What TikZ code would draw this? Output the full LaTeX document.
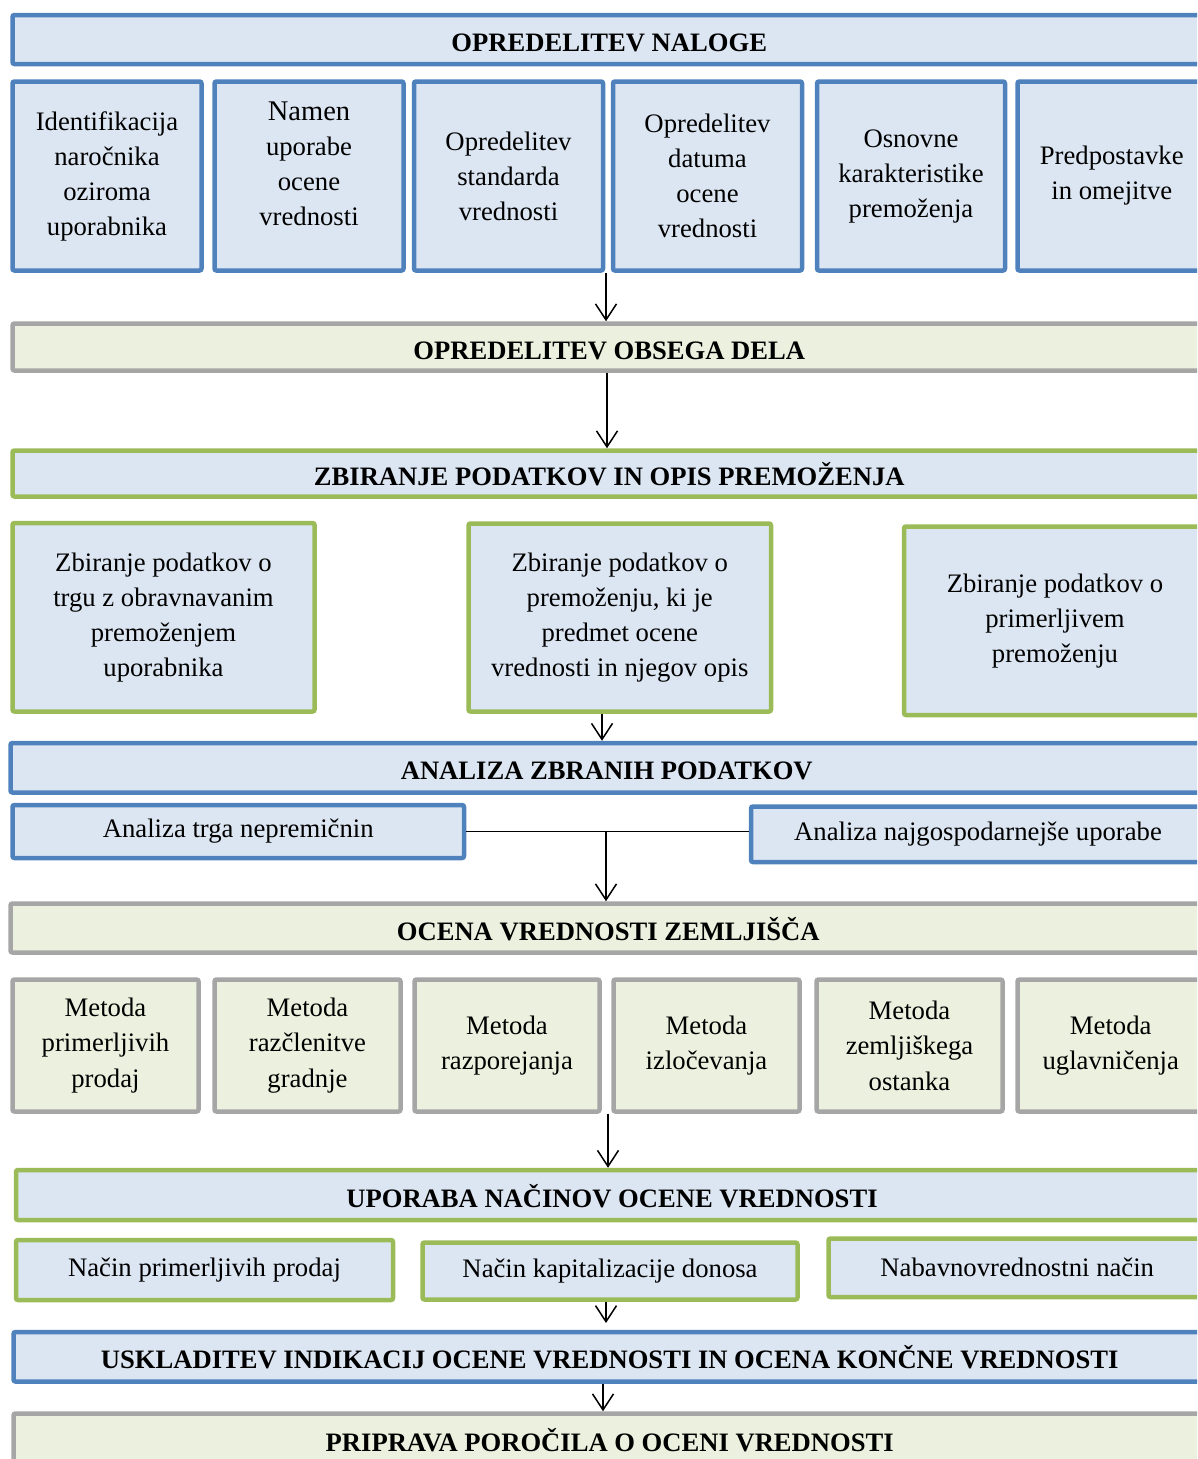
\documentclass[tikz,border=0pt]{standalone}
\usepackage{fontspec}
\setmainfont{Liberation Serif}
\usetikzlibrary{arrows.meta,calc}

\definecolor{bluebd}{HTML}{4F81BD}
\definecolor{bluefl}{HTML}{DCE6F2}
\definecolor{greenbd}{HTML}{9BBB59}
\definecolor{graybd}{HTML}{A6A6A6}
\definecolor{beigefl}{HTML}{EBF1DE}

\tikzset{
  bx/.style={draw, line width=4.5pt, rounded corners=2pt, inner sep=0pt, align=center,
             font=\fontsize{26.7}{35}\selectfont},
  bluebox/.style={bx, draw=bluebd, fill=bluefl},
  greenbox/.style={bx, draw=greenbd, fill=bluefl},
  graybox/.style={bx, draw=graybd, fill=beigefl},
  title/.style={font=\fontsize{26.6}{32}\selectfont\bfseries, text height=24pt, text depth=0pt},
  method/.style={font=\fontsize{26.7}{35.5}\selectfont},
  arr/.style={line width=1.5pt, -{Straight Barb[length=16pt,width=21pt,line width=1.5pt]}},
  link/.style={line width=1.8pt},
}

% box by its corner coordinates (line centres): name, x1, y1, x2, y2, style, text
\newcommand\blk[7]{%
  \node[#6, minimum width={#4-#2}, minimum height={#5-#3}] (#1)
    at ({(#2+#4)/2},{(#3+#5)/2}) {#7};}

\begin{document}
\begin{tikzpicture}[x=1pt, y=-1pt]
\useasboundingbox (0,0) rectangle (1197,1459);
\clip (0,0) rectangle (1197,1459);

% 1. task definition
\blk{nal}{12.5}{15}{1206}{64}{bluebox, title}{OPREDELITEV NALOGE}
\blk{c1}{12.5}{81.5}{201.5}{270.5}{bluebox}{Identifikacija\\naročnika\\oziroma\\uporabnika}
\blk{c2}{214.5}{81.5}{403.5}{270.5}{bluebox}{\begin{tabular}{@{}c@{}}{\fontsize{28.5}{38}\selectfont Namen}\\uporabe\\ocene\\vrednosti\\[20pt]\end{tabular}}
\blk{c3}{414}{81.5}{603}{270.5}{bluebox}{Opredelitev\\standarda\\vrednosti}
\blk{c4}{613}{81.5}{802}{270.5}{bluebox}{Opredelitev\\datuma\\ocene\\vrednosti}
\blk{c5}{817}{81.5}{1005}{270.5}{bluebox}{Osnovne\\karakteristike\\premoženja}
\blk{c6}{1017.5}{81.5}{1206}{270.5}{bluebox}{Predpostavke\\in omejitve}

% 2. scope of work
\blk{obs}{12.5}{323.5}{1206}{370.5}{graybox, title}{OPREDELITEV OBSEGA DELA}

% 3. data collection
\blk{zbi}{12.5}{450.5}{1206}{496.5}{greenbox, title}{ZBIRANJE PODATKOV IN OPIS PREMOŽENJA}
\blk{z1}{12.5}{523}{314.5}{711.5}{greenbox}{Zbiranje podatkov o\\trgu z obravnavanim\\premoženjem\\uporabnika}
\blk{z2}{468.5}{523.5}{771}{711.5}{greenbox}{Zbiranje podatkov o\\premoženju, ki je\\predmet ocene\\vrednosti in njegov opis}
\blk{z3}{904}{526.5}{1206}{715}{greenbox}{Zbiranje podatkov o\\primerljivem\\premoženju}

% 4. analysis
\blk{ana}{10.5}{743}{1203}{792.5}{bluebox, title}{ANALIZA ZBRANIH PODATKOV}
\blk{trg}{12.5}{805}{464}{858}{bluebox}{Analiza trga nepremičnin}
\blk{naj}{751}{806.5}{1205}{862}{bluebox}{Analiza najgospodarnejše uporabe}

% 5. land valuation
\blk{oce}{10.5}{903.5}{1206}{952.5}{graybox, title}{OCENA VREDNOSTI ZEMLJIŠČA}
\blk{m1}{12.5}{979.5}{198.5}{1111.5}{graybox, method}{Metoda\\primerljivih\\prodaj}
\blk{m2}{214.5}{979.5}{400.5}{1111.5}{graybox, method}{Metoda\\razčlenitve\\gradnje}
\blk{m3}{414.5}{979.5}{599.5}{1111.5}{graybox, method}{Metoda\\razporejanja}
\blk{m4}{613.5}{979.5}{799.5}{1111.5}{graybox, method}{Metoda\\izločevanja}
\blk{m5}{816.5}{979.5}{1002.5}{1111.5}{graybox, method}{Metoda\\zemljiškega\\ostanka}
\blk{m6}{1017.5}{979.5}{1204}{1111.5}{graybox, method}{Metoda\\uglavničenja}

% 6. valuation approaches
\blk{upo}{16}{1170}{1208}{1220}{greenbox, title}{UPORABA NAČINOV OCENE VREDNOSTI}
\blk{n1}{16}{1240}{393}{1300}{greenbox}{Način primerljivih prodaj}
\blk{n2}{422.5}{1242.5}{797.5}{1299.5}{greenbox}{Način kapitalizacije donosa}
\blk{n3}{828.5}{1238.5}{1206}{1297}{greenbox}{Nabavnovrednostni način}

% 7. reconciliation and report
\blk{usk}{13.5}{1332}{1206}{1381.5}{bluebox, title}{USKLADITEV INDIKACIJ OCENE VREDNOSTI IN OCENA KONČNE VREDNOSTI}
\blk{pri}{13.5}{1413.5}{1206}{1465}{graybox, title}{PRIPRAVA POROČILA O OCENI VREDNOSTI}

% connector columns
\coordinate (g1) at (606,0);
\coordinate (g2) at (607,0);
\coordinate (g3) at (602,0);
\coordinate (g4) at (606,0);
\coordinate (g5) at (608,0);
\coordinate (e6) at (606,1323);
\coordinate (g7) at (603,0);

\draw[arr] (c3.south -| g1) -- (obs.north -| g1);
\draw[arr] (obs.south -| g2) -- (zbi.north -| g2);
\draw[arr] (z2.south -| g3) -- (ana.north -| g3);
\draw[link] (trg.east) -- (trg.east -| naj.west);
\draw[arr] (trg.east -| g4) -- (oce.north -| g4);
\draw[arr] (m3.south -| g5) -- (upo.north -| g5);
\draw[arr] (n2.south -| e6) -- (e6);
\draw[arr] (usk.south -| g7) -- (pri.north -| g7);
\end{tikzpicture}
\end{document}
